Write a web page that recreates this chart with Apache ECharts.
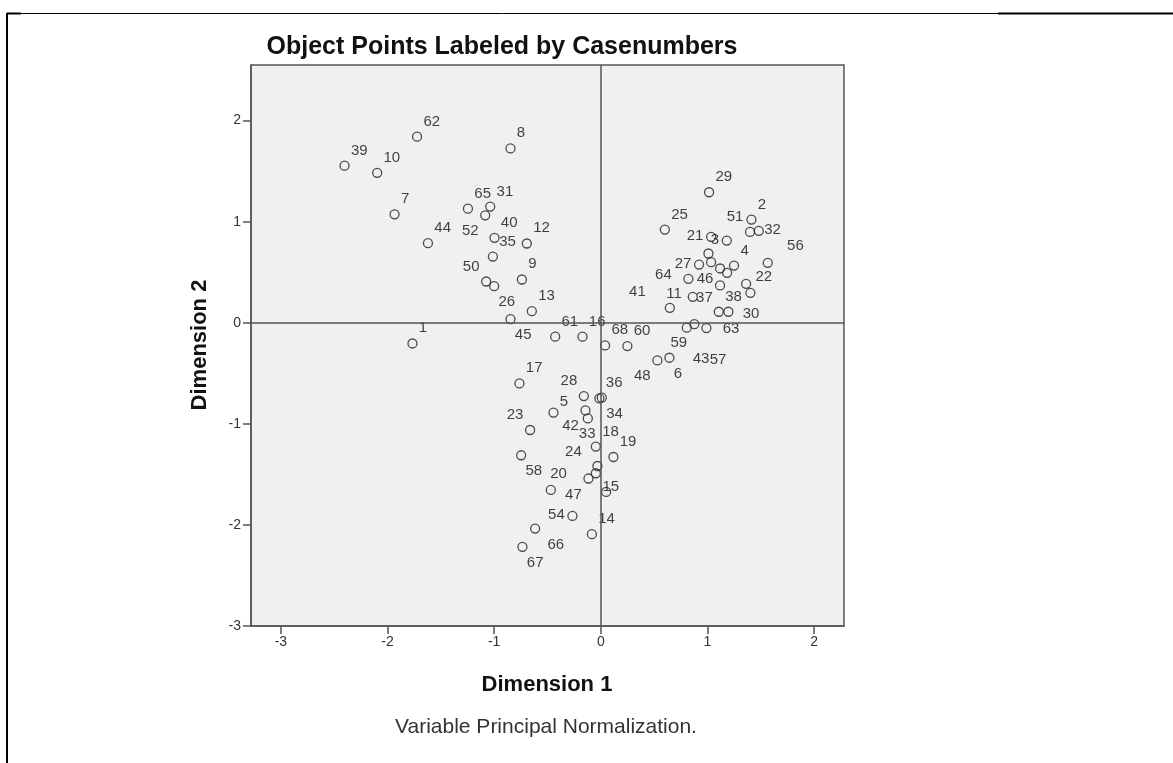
<!DOCTYPE html>
<html>
<head>
<meta charset="utf-8">
<title>Object Points Labeled by Casenumbers</title>
<script src="https://cdn.jsdelivr.net/npm/echarts@6/dist/echarts.min.js"></script>
<style>
  html, body { margin: 0; padding: 0; background: #fff; }
  #chart { width: 1173px; height: 763px; }
</style>
</head>
<body>
<div id="chart"></div>
<script>
// case numbers ('' = point drawn without a label)
var caseLabels = ['1','2','3','4','5','6','7','8','9','10',
    '11','12','13','14','15','16','17','18','19','20',
    '21','22','23','24','25','26','27','28','29','30',
    '31','32','33','34','35','36','37','38','39','40',
    '41','42','43','44','45','46','47','48','50','51',
    '52','54','56','57','58','59','60','61','62','63',
    '64','65','66','67','68','','','',''];
var dim1 = [-1.766, 1.412, 1.181, 1.249, -0.444, 0.643, -1.934, -0.847, -0.740, -2.097,
    0.647, -0.694, -0.647, -0.084, 0.050, -0.172, -0.763, -0.047, 0.118, -0.469,
    1.034, 1.362, -0.663, -0.032, 0.600, -1.000, 0.921, -0.159, 1.015, 1.402,
    -1.037, 1.481, -0.122, 0.009, -1.012, -0.013, 0.862, 1.106, -2.403, -0.997,
    1.009, -0.144, 0.877, -1.621, -0.847, 1.118, -0.116, 0.530, -1.075, 1.399,
    -1.084, -0.266, 1.565, 0.990, -0.747, 0.806, 0.249, -0.428, -1.723, 1.196,
    0.821, -1.246, -0.616, -0.735, 0.040, -0.047, 1.034, 1.118, 1.184];
var dim2 = [-0.205, 1.021, 0.813, 0.566, -0.889, -0.346, 1.073, 1.725, 0.428, 1.483,
    0.148, 0.784, 0.115, -2.092, -1.674, -0.138, -0.600, -1.225, -1.328, -1.654,
    0.850, 0.385, -1.061, -1.417, 0.922, 0.362, 0.576, -0.725, 1.291, 0.296,
    1.149, 0.909, -0.946, -0.741, 0.655, -0.748, 0.257, 0.109, 1.554, 0.840,
    0.685, -0.867, -0.014, 0.787, 0.036, 0.369, -1.541, -0.373, 0.408, 0.899,
    1.063, -1.911, 0.593, -0.053, -1.311, -0.049, -0.231, -0.138, 1.841, 0.109,
    0.435, 1.129, -2.036, -2.217, -0.224, -1.489, 0.599, 0.537, 0.494];
var xTicks = [-3, -2, -1, 0, 1, 2];
var yTicks = [-3, -2, -1, 0, 1, 2];

// label placement: [dx, dy, align, verticalAlign] from the point centre
var placements = {
    ur: [7, -7, 'left', 'bottom'],
    ul: [-6, -7, 'right', 'bottom'],
    ll: [-6, 9, 'right', 'top'],
    lr: [5, 9, 'left', 'top'],
    r: [6, 0, 'left', 'middle'],
    l: [-7, 0, 'right', 'middle'],
    d: [0, 9, 'center', 'top']
};
var labelSide = {
    '3': 'l', '6': 'lr', '21': 'l', '23': 'ul', '26': 'lr', '27': 'l', '28': 'ul',
    '32': 'r', '33': 'd', '34': 'lr', '42': 'll', '45': 'lr', '47': 'll', '48': 'll',
    '50': 'ul', '51': 'ul', '52': 'll', '54': 'l', '58': 'lr', '67': 'lr',
    // labels SPSS pushed away from their point
    '5': [7, -3, 'left', 'bottom'],
    '11': [-3, -6, 'left', 'bottom'],
    '15': [-3, 3, 'left', 'bottom'],
    '20': [0, -8, 'left', 'bottom'],
    '22': [10, -6, 'left', 'middle'],
    '24': [-15, -6, 'right', 'bottom'],
    '30': [-7, 14, 'left', 'top'],
    '37': [4, 2, 'left', 'middle'],
    '41': [-62, 46, 'right', 'bottom'],
    '43': [-1, 28, 'left', 'top'],
    '46': [-6, -6, 'right', 'middle'],
    '56': [20, -9, 'left', 'bottom'],
    '57': [4, 25, 'left', 'top'],
    '59': [1, 8, 'right', 'top'],
    '63': [-5, 10, 'left', 'top'],
    '64': [-16, -3, 'right', 'middle'],
    '66': [13, 9, 'left', 'top']
};

var FONT = 'Arial, "Liberation Sans", sans-serif';
var SYM = 9;

var points = [];
for (var i = 0; i < caseLabels.length; i++) {
    var side = labelSide[caseLabels[i]] || 'ur';
    var p = typeof side === 'string' ? placements[side] : side;
    points.push({
        name: caseLabels[i],
        value: [dim1[i], dim2[i]],
        label: {
            show: caseLabels[i] !== '',
            position: [SYM / 2 + p[0], SYM / 2 + p[1]],
            align: p[2],
            verticalAlign: p[3]
        }
    });
}

var chart = echarts.init(document.getElementById('chart'), null, {renderer: 'canvas'});
var option = {
    backgroundColor: '#ffffff',
    animation: false,
    textStyle: {fontFamily: FONT},
    grid: {
        left: 251, top: 65, width: 593, height: 561,
        show: true,
        backgroundColor: '#f0f0f0',
        borderColor: '#555555',
        borderWidth: 1.5
    },
    xAxis: {
        type: 'value',
        min: -3.28,
        max: 2.28,
        axisLine: {show: true, onZero: false, lineStyle: {color: '#555555', width: 1.5}},
        axisTick: {show: true, length: 8, customValues: xTicks, lineStyle: {color: '#555555', width: 1.5}},
        axisLabel: {customValues: xTicks, color: '#333333', fontSize: 14, margin: 9, fontFamily: FONT},
        splitLine: {show: false}
    },
    yAxis: {
        type: 'value',
        min: -3,
        max: 2.55,
        axisLine: {show: true, onZero: false, lineStyle: {color: '#555555', width: 1.5}},
        axisTick: {show: true, length: 8, customValues: yTicks, lineStyle: {color: '#555555', width: 1.5}},
        axisLabel: {customValues: yTicks, color: '#333333', fontSize: 14, margin: 10, fontFamily: FONT},
        splitLine: {show: false}
    },
    series: [{
        type: 'scatter',
        symbol: 'circle',
        symbolSize: SYM,
        data: points,
        itemStyle: {color: 'rgba(0,0,0,0)', borderColor: '#222222', borderWidth: 1.3},
        label: {
            formatter: '{b}',
            color: '#111111',
            fontSize: 15,
            lineHeight: 15,
            fontFamily: FONT
        },
        emphasis: {disabled: true},
        markLine: {
            silent: true,
            symbol: 'none',
            label: {show: false},
            lineStyle: {color: '#555555', width: 1.5, type: 'solid'},
            data: [{xAxis: 0}, {yAxis: 0}]
        }
    }],
    graphic: [
        // page frame
        {type: 'line', shape: {x1: 7, y1: 13.5, x2: 998, y2: 13.5}, style: {stroke: '#000', lineWidth: 1}},
        {type: 'line', shape: {x1: 998, y1: 13.5, x2: 1173, y2: 13.5}, style: {stroke: '#000', lineWidth: 2}},
        {type: 'line', shape: {x1: 7, y1: 13.5, x2: 21, y2: 13.5}, style: {stroke: '#000', lineWidth: 2}},
        {type: 'line', shape: {x1: 7, y1: 13, x2: 7, y2: 763}, style: {stroke: '#000', lineWidth: 2}},
        {type: 'text', x: 502, y: 47, style: {text: 'Object Points Labeled by Casenumbers', font: 'bold 25px ' + FONT, fill: '#111', textAlign: 'center', textVerticalAlign: 'middle'}},
        {type: 'text', x: 547, y: 685, style: {text: 'Dimension 1', font: 'bold 22px ' + FONT, fill: '#111', textAlign: 'center', textVerticalAlign: 'middle'}},
        {type: 'text', x: 200, y: 345, rotation: Math.PI / 2, style: {text: 'Dimension 2', font: 'bold 22px ' + FONT, fill: '#111', textAlign: 'center', textVerticalAlign: 'middle'}},
        {type: 'text', x: 546, y: 727, style: {text: 'Variable Principal Normalization.', font: '21px ' + FONT, fill: '#333', textAlign: 'center', textVerticalAlign: 'middle'}}
    ]
};
chart.setOption(option);
</script>
</body>
</html>
